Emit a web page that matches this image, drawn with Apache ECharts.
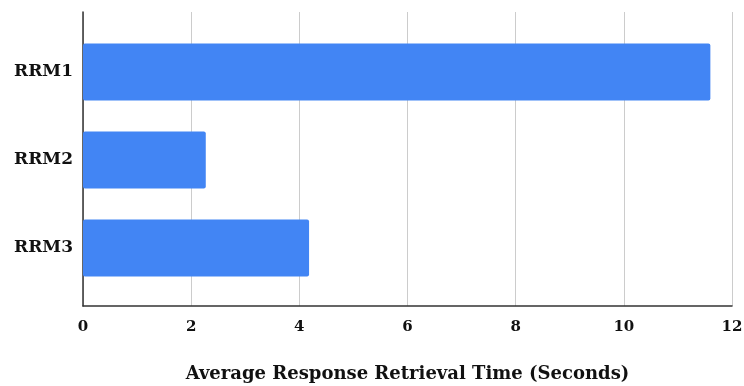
<!DOCTYPE html>
<html><head><meta charset="utf-8">
<script src="https://cdn.jsdelivr.net/npm/echarts@6/dist/echarts.min.js"></script>
<style>html,body{margin:0;padding:0;background:#fff}#c{width:744px;height:386px}</style>
</head><body><div id="c"></div>
<script>
const categories = ['RRM1', 'RRM2', 'RRM3'];
const values = [11.6, 2.27, 4.18];
const xTicks = { min: 0, max: 12, interval: 2 };
const xTitle = 'Average Response Retrieval Time (Seconds)';

const font = '"DejaVu Serif", "Liberation Serif", serif';
const chart = echarts.init(document.getElementById('c'), null, { renderer: 'canvas' });
chart.setOption({
  animation: false,
  grid: [
    { left: 83, right: 12, top: 12, bottom: 80, containLabel: false, outerBoundsMode: 'none' },
    { left: 83, right: 12, top: 28, bottom: 94, containLabel: false, outerBoundsMode: 'none' }
  ],
  xAxis: [
    {
      gridIndex: 0, type: 'value', min: xTicks.min, max: xTicks.max, interval: xTicks.interval,
      axisLine: { show: true, lineStyle: { color: '#333', width: 1.5 } },
      axisTick: { show: false },
      splitLine: { show: true, lineStyle: { color: '#cccccc', width: 1 } },
      axisLabel: { color: '#111', fontFamily: font, fontWeight: 'bold', fontSize: 15, margin: 14 },
      name: xTitle, nameLocation: 'middle', nameGap: 59,
      nameTextStyle: { color: '#111', fontFamily: font, fontWeight: 'bold', fontSize: 18 }
    },
    {
      gridIndex: 1, type: 'value', min: xTicks.min, max: xTicks.max, interval: xTicks.interval,
      show: false
    }
  ],
  yAxis: [
    {
      gridIndex: 0, type: 'value', min: 0, max: 1,
      axisLine: { show: true, onZero: false, lineStyle: { color: '#333', width: 1.5 } },
      axisTick: { show: false }, axisLabel: { show: false }, splitLine: { show: false }
    },
    {
      gridIndex: 1, type: 'category', data: categories, inverse: true,
      axisLine: { show: false }, axisTick: { show: false }, splitLine: { show: false },
      axisLabel: { color: '#111', fontFamily: font, fontWeight: 'bold', fontSize: 17, margin: 10 }
    }
  ],
  series: [{
    type: 'bar', xAxisIndex: 1, yAxisIndex: 1, data: values,
    barWidth: 57,
    itemStyle: { color: '#4285F4', borderRadius: 2 }
  }]
});
</script></body></html>
